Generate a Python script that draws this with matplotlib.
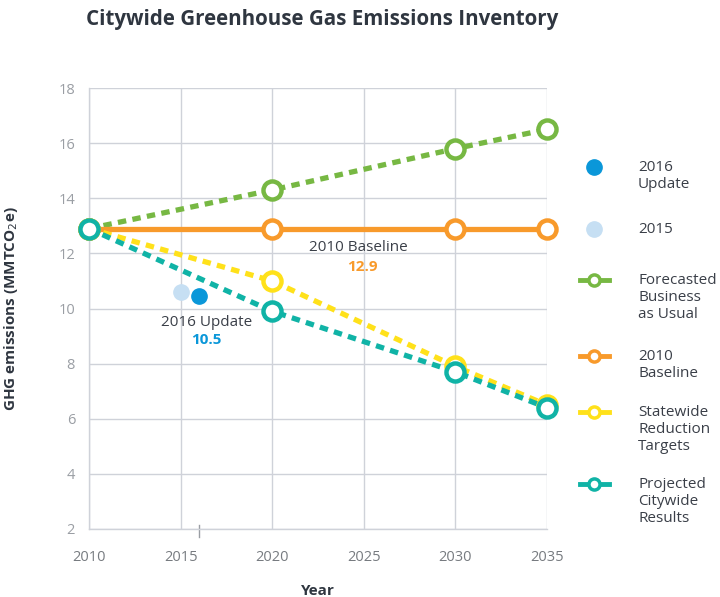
import matplotlib
matplotlib.use("Agg")
import matplotlib.pyplot as plt
from matplotlib.lines import Line2D

plt.rcParams['font.family'] = ['Open Sans', 'DejaVu Sans']

years = [2010, 2020, 2030, 2035]
bau = [12.9, 14.3, 15.8, 16.5]
baseline = [12.9, 12.9, 12.9, 12.9]
statewide = [12.9, 11.0, 7.9, 6.5]
projected = [12.9, 9.9, 7.7, 6.4]
pt2015 = (2015, 10.6)
pt2016 = (2016, 10.45)
x_ticks = [2010, 2015, 2020, 2025, 2030, 2035]
y_ticks = [2, 4, 6, 8, 10, 12, 14, 16, 18]

GREEN = '#77b843'
ORANGE = '#f89a2b'
YELLOW = '#ffe11a'
TEAL = '#10b3a6'
BLUE = '#0a97d9'
LIGHT = '#c6dff3'
GRID = '#cfd2d9'

fig = plt.figure(figsize=(7.2, 5.97), dpi=100)
ax = fig.add_axes([89/720, 1-529/597, (547-89)/720, (529-88)/597])

ax.set_xlim(2010, 2035)
ax.set_ylim(2, 18)
ax.set_xticks(x_ticks)
ax.set_yticks(y_ticks)
ax.grid(True, color=GRID, linewidth=1)
ax.set_axisbelow(True)
for s in ['top', 'right']:
    ax.spines[s].set_visible(False)
for s in ['left', 'bottom']:
    ax.spines[s].set_color(GRID)
    ax.spines[s].set_linewidth(1)
ax.tick_params(length=0, labelsize=10.5)
ax.tick_params(axis='x', colors='#777b80', pad=15)
ax.tick_params(axis='y', colors='#9a9ea4', pad=10)

mk = dict(marker='o', markersize=13, markerfacecolor='white', markeredgewidth=3.2, clip_on=False)
dash = (1.6, 1.2)
ax.plot(years, bau, color=GREEN, lw=3.8, linestyle=(0, dash), **mk, zorder=3)
ax.plot(years, baseline, color=ORANGE, lw=3.8, **mk, zorder=4)
ax.plot(years, statewide, color=YELLOW, lw=3.8, linestyle=(0, dash), **mk, zorder=5)
ax.plot(years, projected, color=TEAL, lw=3.8, linestyle=(0, dash), **mk, zorder=6)
ax.plot([pt2015[0]], [pt2015[1]], 'o', color=LIGHT, markersize=11, zorder=7)
ax.plot([pt2016[0]], [pt2016[1]], 'o', color=BLUE, markersize=11, zorder=7)

# extra tick at 2016
ax.plot([2016, 2016], [-0.0185, 0.0085], color='#9a9ea4', lw=1,
        transform=ax.get_xaxis_transform(), clip_on=False)

ax.text(2024.7, 12.23, '2010 Baseline', ha='center', va='center', fontsize=11, color='#3a3f48')
ax.text(2024.9, 11.52, '12.9', ha='center', va='center', fontsize=11, color=ORANGE, fontweight='bold')
ax.text(2016.4, 9.5, '2016 Update', ha='center', va='center', fontsize=11, color='#3a3f48')
ax.text(2016.4, 8.85, '10.5', ha='center', va='center', fontsize=11, color=BLUE, fontweight='bold')

ax.set_xlabel('Year', fontsize=11, fontweight='bold', color='#2f3640', labelpad=14)
ax.set_ylabel('GHG emissions (MMTCO$_2$e)', fontsize=11, fontweight='bold', color='#2f3640')
ax.yaxis.set_label_coords((20-89)/458, 0.5)

fig.text(322/720, 1-19/597, 'Citywide Greenhouse Gas Emissions Inventory', ha='center', va='center',
         fontsize=14.8, fontweight='bold', color='#2f3640')

# manual legend
legend_items = [
    ('dot', BLUE, '2016\nUpdate', 167),
    ('dot', LIGHT, '2015', 229),
    ('line', GREEN, 'Forecasted\nBusiness\nas Usual', 280),
    ('line', ORANGE, '2010\nBaseline', 356),
    ('line', YELLOW, 'Statewide\nReduction\nTargets', 412),
    ('line', TEAL, 'Projected\nCitywide\nResults', 484),
]
for kind, col, lab, ypx in legend_items:
    yf = 1 - ypx/597
    if kind == 'dot':
        fig.add_artist(Line2D([594/720], [yf], marker='o', markersize=11, color=col,
                              linestyle='none', transform=fig.transFigure))
    else:
        fig.add_artist(Line2D([580/720, 609/720], [yf, yf], color=col, lw=3.5,
                              transform=fig.transFigure))
        fig.add_artist(Line2D([594/720], [yf], marker='o', markersize=8, color=col,
                              markerfacecolor='white', markeredgewidth=2.5, linestyle='none',
                              transform=fig.transFigure))
    fig.text(638/720, yf + 7/597, lab, ha='left', va='top', fontsize=11, color='#3a3f48',
             linespacing=1.2)

fig.savefig('out.png', dpi=100, facecolor='white')
